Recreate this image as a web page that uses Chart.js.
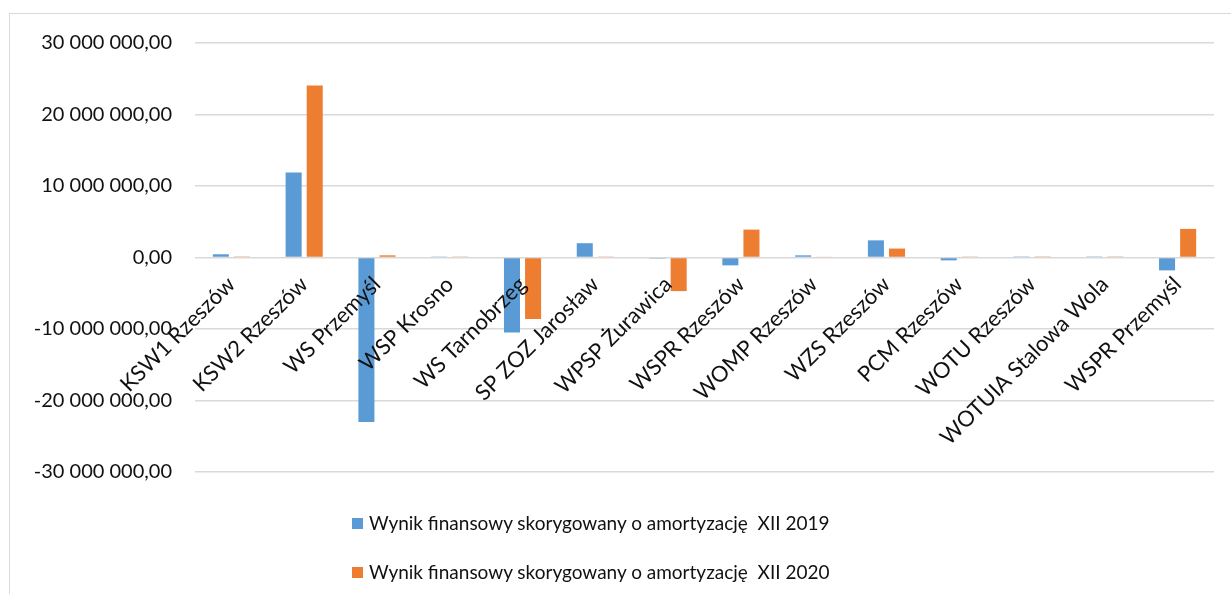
<!DOCTYPE html>
<html>
<head>
<meta charset="utf-8">
<script src="https://cdn.jsdelivr.net/npm/chart.js@4/dist/chart.umd.min.js"></script>
<style>
  html, body { margin: 0; padding: 0; background: #fff; }
  body { width: 1231px; height: 594px; position: relative; overflow: hidden; font-family: Lato, "Open Sans", sans-serif; }
  #frame { position: absolute; left: 9px; top: 13px; width: 1240px; height: 600px; border-left: 1px solid #d9d9d9; border-top: 1px solid #d9d9d9; box-sizing: border-box; }
  #wrap { position: absolute; left: 0; top: 0; width: 1231px; height: 594px; }
  #legend { position: absolute; left: 0; top: 0; }
  .item { position: absolute; white-space: pre; font-size: 19px; color: #111; line-height: 24px; }
  .sw { position: absolute; width: 11px; height: 11px; }
</style>
</head>
<body>
<div id="frame"></div>
<div id="wrap"><canvas id="c" width="1231" height="594"></canvas></div>
<div id="legend"></div>
<script>
const categories = ["KSW1 Rzeszów", "KSW2 Rzeszów", "WS Przemyśl", "WSP Krosno", "WS Tarnobrzeg", "SP ZOZ Jarosław", "WPSP Żurawica", "WSPR Rzeszów", "WOMP Rzeszów", "WZS Rzeszów", "PCM Rzeszów", "WOTU Rzeszów", "WOTUIA Stalowa Wola", "WSPR Przemyśl"];
const series2019 = [450000, 11900000, -23000000, 60000, -10500000, 2000000, -150000, -1100000, 300000, 2400000, -400000, 150000, 150000, -1800000];
const series2020 = [150000, 24050000, 300000, 40000, -8600000, 60000, -4700000, 3900000, 120000, 1250000, 60000, 150000, 150000, 4000000];
const seriesNames = ["Wynik finansowy skorygowany o amortyzację  XII 2019", "Wynik finansowy skorygowany o amortyzację  XII 2020"];
const seriesColors = ["#5B9BD5", "#ED7D31"];
const yMin = -30000000, yMax = 30000000, yStep = 10000000;

function fmt(v) {
  const neg = v < 0;
  const s = Math.round(Math.abs(v)).toString().replace(/\B(?=(\d{3})+(?!\d))/g, " ");
  return (neg ? "-" : "") + s + ",00";
}

const FONT = { family: "Lato, 'Open Sans', sans-serif", size: 20 };
const XFONT = { family: "Lato, 'Open Sans', sans-serif", size: 22 };

new Chart(document.getElementById("c"), {
  type: "bar",
  data: {
    labels: categories,
    datasets: [
      { label: seriesNames[0], data: series2019, backgroundColor: seriesColors[0], categoryPercentage: 0.58, barPercentage: 0.76 },
      { label: seriesNames[1], data: series2020, backgroundColor: seriesColors[1], categoryPercentage: 0.58, barPercentage: 0.76 }
    ]
  },
  options: {
    responsive: false,
    animation: false,
    layout: { padding: { left: 0, top: 43, right: 17, bottom: 122 } },
    plugins: { legend: { display: false }, tooltip: { enabled: false } },
    scales: {
      x: {
        position: { y: 0 },
        grid: { display: false, drawTicks: false },
        border: { display: true, color: "#d9d9d9", width: 1, z: 1 },
        ticks: { z: 2, autoSkip: false, minRotation: 45, maxRotation: 45, padding: 14, color: "#111", font: XFONT },
        afterFit: (s) => { s.height = 0; }
      },
      y: {
        min: yMin, max: yMax,
        grid: { color: "#d9d9d9", lineWidth: 1.5, drawTicks: false },
        border: { display: false },
        ticks: { stepSize: yStep, padding: 23, color: "#111", font: FONT, callback: (v) => fmt(v) },
        afterFit: (s) => { s.width = 195; }
      }
    }
  }
});

const leg = document.getElementById("legend");
const rows = [523, 572];
seriesNames.forEach((n, i) => {
  const sw = document.createElement("div");
  sw.className = "sw";
  sw.style.left = "352px";
  sw.style.top = (rows[i] - 5) + "px";
  sw.style.background = seriesColors[i];
  leg.appendChild(sw);
  const t = document.createElement("div");
  t.className = "item";
  t.style.left = "369px";
  t.style.top = (rows[i] - 12) + "px";
  t.textContent = n;
  leg.appendChild(t);
});
</script>
</body>
</html>
